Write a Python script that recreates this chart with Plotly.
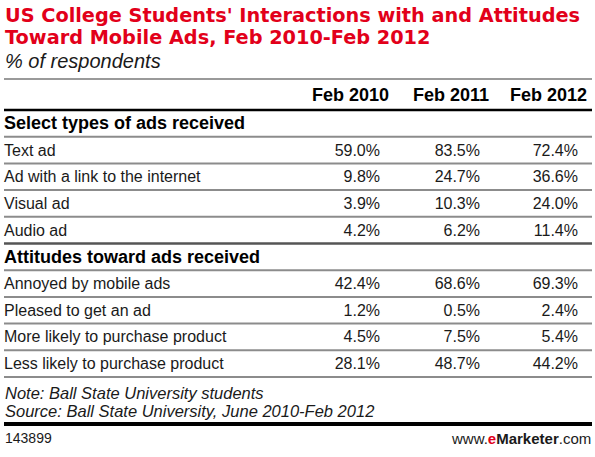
import plotly.graph_objects as go

# table contents
title_lines = [
    "US College Students' Interactions with and Attitudes",
    "Toward Mobile Ads, Feb 2010-Feb 2012",
]
subtitle = "% of respondents"
years = ["Feb 2010", "Feb 2011", "Feb 2012"]

sections = ["Select types of ads received", "Attitudes toward ads received"]
ad_types = ["Text ad", "Ad with a link to the internet", "Visual ad", "Audio ad"]
attitudes = [
    "Annoyed by mobile ads",
    "Pleased to get an ad",
    "More likely to purchase product",
    "Less likely to purchase product",
]
feb_2010 = [59.0, 9.8, 3.9, 4.2, 42.4, 1.2, 4.5, 28.1]
feb_2011 = [83.5, 24.7, 10.3, 6.2, 68.6, 0.5, 7.5, 48.7]
feb_2012 = [72.4, 36.6, 24.0, 11.4, 69.3, 2.4, 5.4, 44.2]

notes = [
    "Note: Ball State University students",
    "Source: Ball State University, June 2010-Feb 2012",
]
chart_id = "143899"

# layout constants
W, H = 595, 457
RED = "#e2001a"
TXT = "#1a1a1a"
FONT = "Liberation Sans"
TABLE_TOP = 110
ROW_H = 26.7
LEFT, RIGHT = 4, 592
VALUE_RIGHT = [380, 480, 578]

# build rows: section header, then its rows
rows = []  # (label, is_section, values or None)
series = list(zip(feb_2010, feb_2011, feb_2012))
for sec, labels, offset in [(sections[0], ad_types, 0), (sections[1], attitudes, len(ad_types))]:
    rows.append((sec, True, None))
    for i, lab in enumerate(labels):
        rows.append((lab, False, series[offset + i]))


def row_y(k):
    return TABLE_TOP + (k + 0.5) * ROW_H + 1.5


fig = go.Figure()

# row labels
plain_k = [k for k, r in enumerate(rows) if not r[1]]
sec_k = [k for k, r in enumerate(rows) if r[1]]
fig.add_trace(go.Scatter(
    x=[LEFT] * len(plain_k), y=[row_y(k) for k in plain_k],
    text=[rows[k][0] for k in plain_k], mode="text", textposition="middle right",
    textfont=dict(family=FONT, size=16, color=TXT), hoverinfo="skip",
))
fig.add_trace(go.Scatter(
    x=[LEFT] * len(sec_k), y=[row_y(k) for k in sec_k],
    text=["<b>%s</b>" % rows[k][0] for k in sec_k], mode="text", textposition="middle right",
    textfont=dict(family=FONT, size=18, color="#000"), hoverinfo="skip",
))

# values, one trace per year
for j, year in enumerate(years):
    fig.add_trace(go.Scatter(
        x=[VALUE_RIGHT[j]] * len(plain_k), y=[row_y(k) for k in plain_k],
        text=["%.1f%%" % rows[k][2][j] for k in plain_k], mode="text",
        textposition="middle left",
        textfont=dict(family=FONT, size=16, color=TXT), hoverinfo="skip",
    ))
    fig.add_annotation(x=VALUE_RIGHT[j] + 11, y=95, text="<b>%s</b>" % year,
                       xanchor="right", yanchor="middle", showarrow=False,
                       font=dict(family=FONT, size=18, color="#000"))

# horizontal rules
def hline(y, color, width):
    fig.add_shape(type="line", x0=LEFT, x1=RIGHT, y0=y, y1=y,
                  line=dict(color=color, width=width))

hline(79, "#9a9a9a", 2)
hline(TABLE_TOP, "#000", 2.5)
for k in range(1, len(rows) + 1):
    if k < len(rows) and rows[k][1]:
        hline(TABLE_TOP + k * ROW_H, "#555", 2.5)
    else:
        hline(TABLE_TOP + k * ROW_H, "#8c8c8c", 2)
hline(424, "#000", 4)

# title, subtitle
for i, line in enumerate(title_lines):
    fig.add_annotation(x=LEFT - 1, y=15 + i * 22.5, text="<b>%s</b>" % line,
                       xanchor="left", yanchor="middle", showarrow=False,
                       font=dict(family="DejaVu Sans", size=19.3, color=RED))
fig.add_annotation(x=LEFT - 1, y=61, text="<i>%s</i>" % subtitle,
                   xanchor="left", yanchor="middle", showarrow=False,
                   font=dict(family=FONT, size=20, color=TXT))

# notes and footer
for i, line in enumerate(notes):
    fig.add_annotation(x=LEFT - 1, y=393 + i * 18, text="<i>%s</i>" % line,
                       xanchor="left", yanchor="middle", showarrow=False,
                       font=dict(family=FONT, size=16.5, color=TXT))
fig.add_annotation(x=LEFT - 1, y=438, text=chart_id, xanchor="left", yanchor="middle",
                   showarrow=False, font=dict(family=FONT, size=14, color=TXT))
fig.add_annotation(x=RIGHT + 1, y=438,
                   text="www.<b><span style='color:%s'>e</span>Marketer</b>.com" % RED,
                   xanchor="right", yanchor="middle", showarrow=False,
                   font=dict(family=FONT, size=15, color=TXT))

fig.update_xaxes(range=[0, W], visible=False, fixedrange=True)
fig.update_yaxes(range=[H, 0], visible=False, fixedrange=True)
fig.update_layout(width=W, height=H, margin=dict(l=0, r=0, t=0, b=0),
                  plot_bgcolor="white", paper_bgcolor="white", showlegend=False)

# drop the page's default body margin so the figure sits at the window corner
fig.write_html("out.html", config={"displayModeBar": False},
               post_script="document.body.style.margin='0';document.body.style.overflow='hidden';")
